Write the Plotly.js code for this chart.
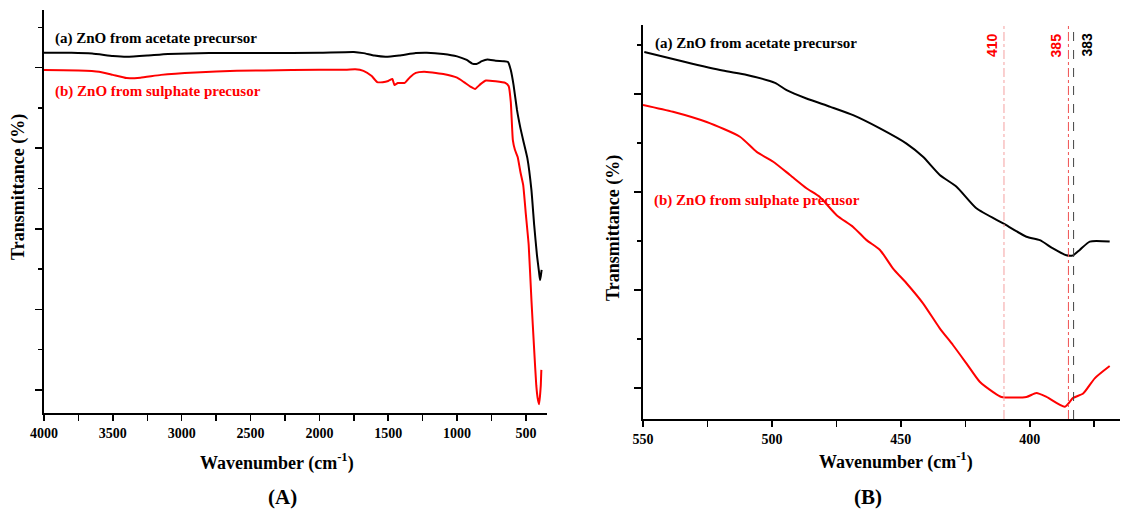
<!DOCTYPE html>
<html>
<head>
<meta charset="utf-8">
<script src="https://cdn.plot.ly/plotly-3.0.1.min.js"></script>
<style>html,body{margin:0;padding:0;background:#fff;}#chart{width:1123px;height:516px;}</style>
</head>
<body>
<div id="chart"></div>
<script>
// Panel A: full FTIR spectra (wavenumber, cm-1) and transmittance (arbitrary % units)
const aAcetateWn = [4000,3800,3650,3500,3400,3250,3100,2800,2400,2000,1750,1680,1600,1520,1420,1300,1220,1100,1000,930,890,860,820,780,720,660,630,610,590,565,540,520,490,460,440,420,405,398,392,386];
const aAcetateT  = [83.7,83.7,83.5,82.9,82.7,83.0,83.4,83.6,83.6,83.7,83.9,83.6,83.0,82.7,83.0,83.6,83.7,83.4,82.8,81.9,81.0,80.9,81.6,82.0,81.7,81.6,81.4,79.4,75.7,69.5,65.0,62.0,57.6,49.6,40.9,33.5,29.3,27.3,28.3,29.8];
const aSulphateWn = [4000,3750,3600,3500,3400,3300,3150,2900,2600,2200,1800,1740,1680,1620,1580,1540,1500,1470,1455,1430,1380,1340,1300,1240,1180,1100,1000,950,900,870,830,790,720,650,625,610,595,580,560,540,520,500,480,460,440,425,415,405,398,392,388];
const aSulphateT  = [79.4,79.3,79.0,78.2,77.4,77.5,78.2,78.8,79.2,79.4,79.5,79.6,79.2,77.9,76.4,76.4,76.7,77.2,75.7,76.2,76.2,77.7,78.7,79.0,78.8,78.4,77.5,76.4,75.2,74.7,75.9,76.8,76.6,76.2,75.4,71.5,62.0,59.6,57.8,54.1,50.9,43.4,36.0,22.3,9.9,1.2,-2.0,-3.5,-1.5,1.2,5.0];

// Panel B: zoom 550-365 cm-1
const bAcetateWn = [549.5,534.0,519.1,509.7,498.8,494.3,486.6,477.3,468.5,458.1,447.8,441.4,434.9,428.4,420.7,410.3,401.3,396.1,391.0,385.8,383.2,380.6,376.7,369.0];
const bAcetateT  = [68.6,66.6,64.8,63.9,62.3,60.8,59.1,57.4,55.7,53.0,49.9,47.2,43.5,41.1,36.7,33.6,30.9,30.2,28.5,27.1,27.1,28.2,29.9,29.9];
const bSulphateWn = [550.0,538.4,525.3,512.4,505.9,499.5,493.0,486.6,481.4,474.9,468.5,463.3,458.1,453.0,447.8,441.4,434.9,429.8,424.5,419.4,414.2,411.0,401.3,397.4,393.5,386.4,383.2,379.3,374.8,369.0];
const bSulphateT  = [57.8,56.4,54.3,51.3,48.2,46.2,43.5,40.8,39.0,35.3,32.9,30.2,28.2,24.4,21.4,17.3,12.2,8.8,5.0,1.3,-0.8,-1.8,-1.8,-1.0,-1.8,-3.8,-2.0,-1.1,2.0,4.5];

// Marked peaks in panel B
const peakWn = [410, 385, 383];
const peakLabels = ["410", "385", "383"];
const peakColors = ["#f4a0a0", "#f05050", "#444444"];
const peakTextColors = ["#ff0000", "#ff0000", "#000000"];

const seriesNames = ["(a) ZnO from acetate precursor", "(b) ZnO from sulphate precusor"];
const seriesColors = ["#000000", "#ff0000"];

const serif = "Liberation Serif, Times New Roman, serif";
const sans = "Liberation Sans, Arial, sans-serif";

const traces = [
  {x: aAcetateWn, y: aAcetateT, xaxis: 'x', yaxis: 'y', mode: 'lines', line: {color: seriesColors[0], width: 2, shape: 'spline', smoothing: 0.4}, name: seriesNames[0]},
  {x: aSulphateWn, y: aSulphateT, xaxis: 'x', yaxis: 'y', mode: 'lines', line: {color: seriesColors[1], width: 2, shape: 'spline', smoothing: 0.4}, name: seriesNames[1]},
  {x: bAcetateWn, y: bAcetateT, xaxis: 'x2', yaxis: 'y2', mode: 'lines', line: {color: seriesColors[0], width: 2, shape: 'spline', smoothing: 0.6}, name: seriesNames[0]},
  {x: bSulphateWn, y: bSulphateT, xaxis: 'x2', yaxis: 'y2', mode: 'lines', line: {color: seriesColors[1], width: 2, shape: 'spline', smoothing: 0.6}, name: seriesNames[1]}
];

const W = 1123, H = 516;
const px = v => v / W;
const py = v => 1 - v / H;

const tickFont = {family: serif, size: 14, color: '#000', weight: 'bold'};
function xAxis(domain, range, dtick, minorDtick, anchor) {
  return {
    domain: domain, range: range, anchor: anchor,
    showline: true, linecolor: '#000', linewidth: 2,
    ticks: 'outside', ticklen: 6, tickwidth: 1.5, tickcolor: '#000',
    dtick: dtick, tick0: 0,
    minor: {dtick: minorDtick, tick0: 0, ticks: 'outside', ticklen: 6, tickwidth: 1.5, tickcolor: '#000'},
    showgrid: false, zeroline: false,
    tickfont: tickFont
  };
}
function yAxis(domain, range, anchor) {
  return {
    domain: domain, range: range, anchor: anchor,
    showline: true, linecolor: '#000', linewidth: 2,
    ticks: 'outside', ticklen: 7, tickwidth: 1.5, tickcolor: '#000',
    dtick: 20, tick0: 0,
    minor: {dtick: 10, tick0: 0, ticks: 'outside', ticklen: 4, tickwidth: 1.5, tickcolor: '#000'},
    showticklabels: false, showgrid: false, zeroline: false
  };
}

const shapes = peakWn.map((w, i) => ({
  type: 'line', xref: 'x2', yref: 'y2 domain', x0: w, x1: w, y0: 0, y1: 1,
  line: {color: peakColors[i], width: 1, dash: i === 2 ? 'dash' : 'dashdot'}
}));

const annotations = [];
peakWn.forEach((w, i) => {
  annotations.push({
    x: w, xref: 'x2', y: py(45), yref: 'paper', text: peakLabels[i], showarrow: false,
    textangle: -90, xanchor: i === 2 ? 'left' : 'right', yanchor: 'middle',
    xshift: i === 2 ? 3 : -2,
    font: {family: sans, size: 14, color: peakTextColors[i], weight: 'bold'}
  });
});

function txt(x, y, text, font, extra) {
  return Object.assign({x: px(x), y: py(y), xref: 'paper', yref: 'paper', xanchor: 'center', yanchor: 'middle', showarrow: false, text: text, font: font}, extra || {});
}
const labelFont = (c) => ({family: serif, size: 15, color: c, weight: 'bold'});
// series labels
annotations.push(txt(53, 38, seriesNames[0], labelFont(seriesColors[0]), {xanchor: 'left'}));
annotations.push(txt(53, 92, seriesNames[1], labelFont(seriesColors[1]), {xanchor: 'left'}));
annotations.push(txt(653, 43, seriesNames[0], labelFont(seriesColors[0]), {xanchor: 'left'}));
annotations.push(txt(652, 200, seriesNames[1], labelFont(seriesColors[1]), {xanchor: 'left'}));

const titleFont = {family: serif, size: 18, color: '#000', weight: 'bold'};
annotations.push(txt(277, 462, 'Wavenumber (cm<sup>-1</sup>)', titleFont));
annotations.push(txt(896, 461, 'Wavenumber (cm<sup>-1</sup>)', titleFont));
annotations.push(txt(18, 187, 'Transmittance (%)', titleFont, {textangle: -90}));
annotations.push(txt(613, 228, 'Transmittance (%)', titleFont, {textangle: -90}));
const letterFont = {family: serif, size: 21, color: '#000', weight: 'bold'};
annotations.push(txt(282, 497, '(A)', letterFont));
annotations.push(txt(868, 497, '(B)', letterFont));

const layout = {
  width: W, height: H,
  margin: {l: 0, r: 0, t: 0, b: 0},
  paper_bgcolor: '#fff', plot_bgcolor: '#fff',
  showlegend: false,
  xaxis: xAxis([px(44), px(547)], [4000, 347], 500, 250, 'y'),
  yaxis: yAxis([py(413), py(10)], [-5.7, 94.3], 'x'),
  xaxis2: xAxis([px(643), px(1120)], [550, 365], 50, 25, 'y2'),
  yaxis2: yAxis([py(419), py(25)], [-6.3, 74.1], 'x2'),
  shapes: shapes,
  annotations: annotations
};

Plotly.newPlot('chart', traces, layout, {staticPlot: true, displayModeBar: false});
</script>
</body>
</html>
